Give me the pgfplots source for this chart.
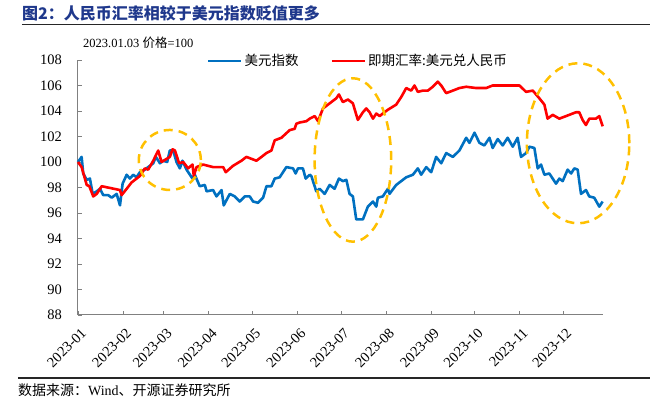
\documentclass[border=0pt]{standalone}
\usepackage{pgfplots}
\pgfplotsset{compat=1.18}
\usepackage{fontspec}
\setmainfont{Liberation Serif}
\newfontfamily\cjk{Noto Sans CJK SC}
\definecolor{myblue}{RGB}{0,112,192}
\definecolor{myred}{RGB}{255,0,0}
\definecolor{myorange}{RGB}{255,192,0}
\definecolor{titleblue}{RGB}{31,56,140}
\definecolor{axisgray}{RGB}{128,128,128}

\begin{document}
\begin{tikzpicture}
\path[use as bounding box] (-78pt,-83pt) rectangle (580pt,315pt);
\begin{axis}[
  at={(0pt,0pt)}, anchor=south west,
  scale only axis, width=524.5pt, height=255pt,
  xmin=0, xmax=361, ymin=88, ymax=108,
  ytick={88,90,...,108},
  xtick={0,31,59,90,120,151,181,212,243,273,304,334},
  xticklabels={2023-01,2023-02,2023-03,2023-04,2023-05,2023-06,2023-07,2023-08,2023-09,2023-10,2023-11,2023-12},
  axis x line*=bottom, axis y line*=left,
  axis line style={axisgray, line width=1pt},
  tick style={axisgray, line width=0.8pt},
  tick align=inside, major tick length=4pt,
  ticklabel style={font=\fontsize{14.5}{14.5}\selectfont},
  /pgf/number format/assume math mode=true,
  yticklabel style={anchor=east, inner sep=0pt, xshift=-16pt},
  xticklabel style={xshift=5.8pt, yshift=-15.5pt, rotate=45, anchor=east, inner sep=0pt},
  clip=false,
  legend columns=2,
  legend style={at={(0.246,0.996)}, anchor=west, draw=none, fill=none, inner sep=0pt, outer sep=0pt,
    font=\cjk\fontsize{13.5}{14}\selectfont, /tikz/every even column/.append style={column sep=30pt}},
  legend image code/.code={\draw[#1] (0pt,0pt) -- (33pt,0pt);},
]
\addplot[myblue, line width=2.6pt, line join=round] coordinates {
(0,100.0) (2.5,100.4) (3.6,99.1) (6.0,98.6) (8.2,98.7) (10.1,97.5) (12.9,97.7) (15.1,97.9)
(17.4,97.4) (20.8,97.4) (23.2,97.2) (26.6,97.5) (28.9,96.6) (30.7,98.3) (33.5,99.0) (35.7,98.7)
(38.0,99.0) (40.3,98.8) (42.6,99.2) (46.0,99.4) (48.3,99.6) (51.8,99.9) (53.6,100.4) (56.4,99.9)
(58.6,100.1) (61.4,100.0) (63.2,100.9) (65.5,100.9) (67.8,100.0) (70.1,99.5) (71.9,100.1) (74.7,99.4)
(78.8,98.7) (80.4,99.0) (83.8,98.1) (87.3,98.2) (88.5,97.7) (93.0,97.8) (95.3,97.3) (98.8,97.8)
(100.3,96.6) (104.5,97.5) (107.9,97.3) (111.3,96.9) (114.8,97.3) (118.2,97.3) (120.5,96.9) (123.9,96.8)
(127.4,97.2) (129.7,98.1) (133.1,98.1) (135.4,98.7) (138.8,98.8) (143.4,99.6) (148.0,99.5) (149.8,99.1)
(151.4,99.5) (154.8,99.5) (156.7,98.7) (159.5,99.0) (160.6,98.9) (164.0,97.7) (166.3,97.9) (169.8,97.5)
(173.2,98.2) (176.6,97.9) (179.6,98.7) (182.3,98.5) (184.7,98.6) (186.9,97.5) (189.2,97.3) (191.5,95.5)
(196.1,95.5) (199.5,96.5) (203.0,96.9) (205.3,96.5) (206.4,97.2) (209.8,97.3) (213.3,97.9) (214.4,97.5)
(219.0,98.2) (225.9,98.8) (230.5,99.0) (233.9,99.5) (236.2,99.0) (239.7,99.6) (243.1,99.2) (246.5,100.4)
(250.0,99.9) (253.4,100.7) (258.0,100.4) (262.5,100.9) (267.2,101.9) (269.4,101.5) (272.9,102.3) (276.3,101.5)
(279.7,101.3) (283.2,101.9) (285.4,101.1) (288.9,101.8) (292.3,101.3) (295.7,101.9) (299.2,101.2) (302.6,101.9)
(304.9,100.4) (308.4,100.7) (310.7,101.2) (314.1,101.1) (316.4,99.5) (318.7,99.8) (321.0,99.0) (324.4,99.1)
(329.0,98.3) (331.3,98.7) (333.6,98.5) (337.0,99.4) (339.4,99.1) (341.6,99.5) (343.9,99.4) (346.2,97.5)
(349.6,97.8) (351.9,97.3) (355.3,97.2) (358.8,96.5) (361.1,96.9)
};
\addlegendentry{美元指数}
\addplot[myred, line width=2.6pt, line join=round] coordinates {
(0,100.0) (2.5,99.6) (6.0,98.2) (7.8,98.1) (10.5,97.3) (12.9,97.5) (16.3,98.1) (28.9,97.8)
(30.0,97.4) (33.5,97.9) (36.9,98.4) (42.6,98.9) (46.0,99.5) (48.3,99.4) (51.8,100.1) (55.2,100.9)
(57.5,100.0) (63.2,100.4) (65.1,101.0) (66.7,100.9) (69.6,99.9) (72.4,100.0) (75.8,99.5) (78.8,99.8)
(79.7,98.9) (81.6,99.6) (86.1,99.8) (93.0,99.6) (99.9,99.6) (101.7,99.2) (106.7,99.7) (112.5,100.1)
(115.9,100.4) (122.8,100.1) (126.3,100.4) (129.7,100.7) (133.1,100.9) (135.4,101.7) (140.0,101.9) (145.7,102.5)
(149.1,102.6) (150.3,103.0) (152.6,103.1) (157.2,103.2) (159.5,103.4) (162.9,103.6) (165.2,103.2) (168.6,104.2)
(173.2,104.6) (177.8,105.0) (179.6,105.3) (182.3,104.7) (185.8,104.9) (189.2,104.6) (192.6,103.3) (196.1,103.9)
(198.4,104.2) (200.7,103.9) (203.0,103.4) (205.3,103.8) (207.6,103.6) (209.8,103.8) (213.3,104.1) (219.0,104.5)
(222.5,105.1) (225.9,105.8) (229.3,105.6) (231.6,106.0) (233.9,105.5) (237.3,105.6) (240.8,105.6) (244.2,105.9)
(247.6,106.3) (250.0,106.0) (253.4,105.4) (258.0,105.6) (262.5,105.8) (267.2,105.9) (274.0,105.8) (280.9,105.8)
(285.4,106.0) (294.6,106.0) (303.8,106.0) (308.4,105.5) (313.0,105.6) (317.5,105.0) (321.0,104.5) (323.2,103.4)
(326.7,103.7) (331.3,103.4) (335.9,103.6) (342.7,103.9) (345.0,103.9) (347.3,103.3) (349.6,102.9) (351.9,103.4)
(356.5,103.4) (358.8,103.6) (361.1,102.8)
};
\addlegendentry{即期汇率:美元兑人民币}
\draw[myorange, line width=2.5pt, dash pattern=on 9pt off 6pt] (axis cs:63.2,100.16) ellipse [x radius=31pt, y radius=30pt];
\draw[myorange, line width=2.5pt, dash pattern=on 9pt off 6pt] (axis cs:189.2,100.16) ellipse [x radius=38.3pt, y radius=81.7pt];
\draw[myorange, line width=2.5pt, dash pattern=on 9pt off 6pt] (axis cs:344.2,101.47) ellipse [x radius=51.2pt, y radius=80pt];
\end{axis}
\node[anchor=west, inner sep=0pt, text=titleblue, font=\cjk\bfseries\fontsize{16}{16}\selectfont] at (-56pt,301.5pt) {图2：人民币汇率相较于美元指数贬值更多};
\draw[line width=1.2pt, black!85] (-56pt,290.5pt) -- (572pt,290.5pt);
\node[anchor=west, inner sep=0pt, font=\fontsize{12.5}{14}\selectfont] at (5pt,272pt) {2023.01.03 {\cjk 价格}=100};
\draw[line width=1.2pt, black!85] (-60pt,-63pt) -- (572pt,-63pt);
\node[anchor=west, inner sep=0pt, font=\cjk\fontsize{14}{14}\selectfont] at (-60pt,-75pt) {数据来源：{\rmfamily Wind}、开源证券研究所};
\end{tikzpicture}
\end{document}
